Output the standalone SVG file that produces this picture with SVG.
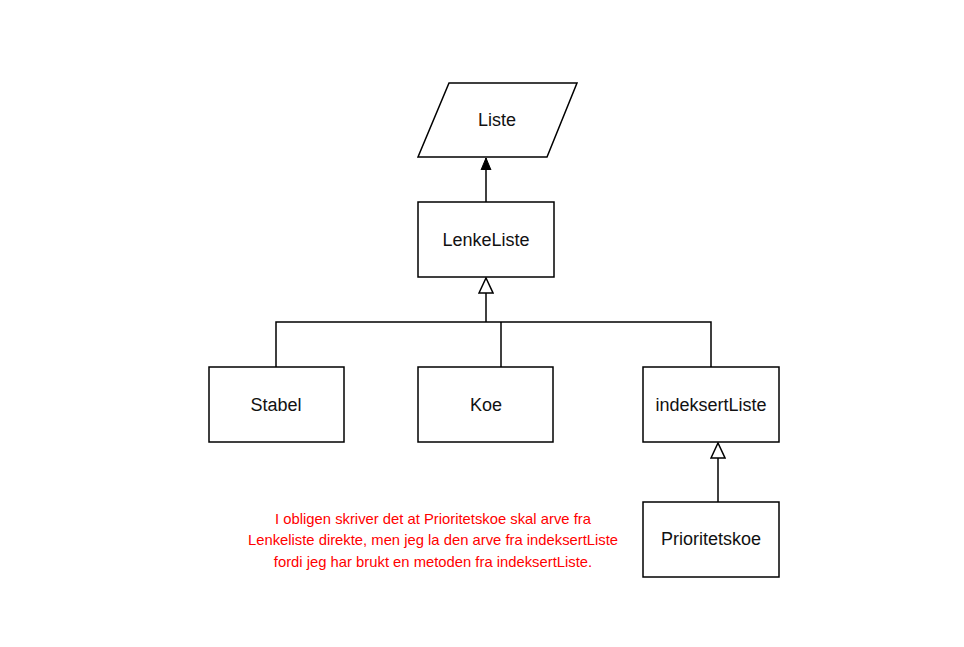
<svg xmlns="http://www.w3.org/2000/svg" width="964" height="647" viewBox="0 0 964 647">
<style>
.n{fill:#fff;stroke:#000;stroke-width:1.5}
.t{font-family:"Liberation Sans",Arial,sans-serif;font-size:18px;fill:#111;text-anchor:middle;dominant-baseline:central}
.c{fill:none;stroke:#000;stroke-width:1.5}
.r{font-family:"Liberation Sans",Arial,sans-serif;font-size:14.8px;fill:#ff0000;text-anchor:middle;dominant-baseline:central}
</style>
<defs>
<marker id="filled" viewBox="0 0 12 12" refX="12" refY="6" markerWidth="12" markerHeight="12" markerUnits="userSpaceOnUse" orient="auto">
<path d="M0,1 L12,6 L0,11 Z" fill="#000" stroke="#000" stroke-width="1"/>
</marker>
<marker id="hollow" viewBox="0 0 17 16" refX="16" refY="8" markerWidth="17" markerHeight="16" markerUnits="userSpaceOnUse" orient="auto">
<path d="M1,1 L16,8 L1,15 Z" fill="#fff" stroke="#000" stroke-width="1.5"/>
</marker>
</defs>
<rect width="964" height="647" fill="#fff"/>
<g id="connectors">
<path class="c" d="M486,202 L486,158" marker-end="url(#filled)"/>
<path class="c" d="M486,322 L486,278" marker-end="url(#hollow)"/>
<path class="c" d="M276,367 L276,322 L711,322 L711,367"/>
<path class="c" d="M501,322 L501,367"/>
<path class="c" d="M718,502 L718,443" marker-end="url(#hollow)"/>
</g>
<g id="liste">
<polygon class="n" points="449,83 577,83 547,157 418,157"/>
<text class="t" x="497" y="120">Liste</text>
</g>
<g id="lenkeliste">
<rect class="n" x="418" y="202" width="136" height="75"/>
<text class="t" x="486" y="240">LenkeListe</text>
</g>
<g id="stabel">
<rect class="n" x="209" y="367" width="135" height="75"/>
<text class="t" x="276" y="405">Stabel</text>
</g>
<g id="koe">
<rect class="n" x="418" y="367" width="135" height="75"/>
<text class="t" x="486" y="405">Koe</text>
</g>
<g id="indeksertliste">
<rect class="n" x="643" y="367" width="136" height="75"/>
<text class="t" x="711" y="405">indeksertListe</text>
</g>
<g id="prioritetskoe">
<rect class="n" x="643" y="502" width="136" height="75"/>
<text class="t" x="711" y="539">Prioritetskoe</text>
</g>
<g id="note">
<text class="r" x="433" y="519">I obligen skriver det at Prioritetskoe skal arve fra</text>
<text class="r" x="433" y="540">Lenkeliste direkte, men jeg la den arve fra indeksertListe</text>
<text class="r" x="433" y="562">fordi jeg har brukt en metoden fra indeksertListe.</text>
</g>
</svg>
